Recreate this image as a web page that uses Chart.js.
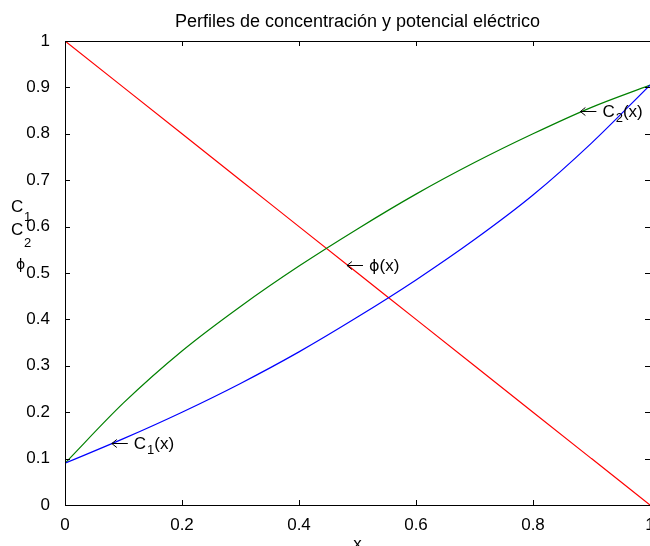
<!DOCTYPE html>
<html>
<head>
<meta charset="utf-8">
<script src="https://cdn.jsdelivr.net/npm/chart.js@4.4.1/dist/chart.umd.min.js"></script>
<style>
  html, body { margin: 0; padding: 0; background: #fff; overflow: hidden; }
  #wrap { width: 650px; height: 546px; position: relative; }
</style>
</head>
<body>
<div id="wrap"><canvas id="chart"></canvas></div>
<script>
// datos
const xs   = [0, 0.1, 0.2, 0.3, 0.4, 0.5, 0.6, 0.7, 0.8, 0.9, 1.0];
const phi  = [1, 0.9, 0.8, 0.7, 0.6, 0.5, 0.4, 0.3, 0.2, 0.1, 0];
const c1   = [0.09, 0.143, 0.200, 0.262, 0.330, 0.405, 0.485, 0.572, 0.668, 0.780, 0.905];
const c2   = [0.09, 0.220, 0.332, 0.428, 0.515, 0.595, 0.670, 0.738, 0.800, 0.857, 0.905];
const xTicks = [0, 0.2, 0.4, 0.6, 0.8, 1];
const yTicks = [0, 0.1, 0.2, 0.3, 0.4, 0.5, 0.6, 0.7, 0.8, 0.9, 1];
const titleText = 'Perfiles de concentración y potencial eléctrico';

// etiquetas con flecha: punto (x, y) donde apunta la flecha
const annNames = ['C', 'ϕ', 'C'];
const annSubs  = ['1', '', '2'];
const annX     = [0.08, 0.482, 0.881];
const annY     = [0.134, 0.518, 0.849];

const FONT = '"Liberation Sans", Arial, Helvetica, sans-serif';
const SYM = '"DejaVu Sans", sans-serif';
const toPts = ys => xs.map((x, i) => ({ x, y: ys[i] }));

// caja estilo MATLAB con marcas hacia dentro + textos
const matlabBox = {
    id: 'matlabBox',
    afterDraw(chart) {
        const { ctx, chartArea: a, scales: { x, y } } = chart;
        ctx.save();
        ctx.strokeStyle = '#000';
        ctx.lineWidth = 1;
        ctx.beginPath();
        ctx.rect(a.left + 0.5, a.top + 0.5, a.right - a.left, a.bottom - a.top);
        const tl = 5;
        xTicks.forEach(v => {
            const px = Math.round(x.getPixelForValue(v)) + 0.5;
            ctx.moveTo(px, a.bottom); ctx.lineTo(px, a.bottom - tl);
            ctx.moveTo(px, a.top); ctx.lineTo(px, a.top + tl);
        });
        yTicks.forEach(v => {
            const py = Math.round(y.getPixelForValue(v)) + 0.5;
            ctx.moveTo(a.left, py); ctx.lineTo(a.left + tl, py);
            ctx.moveTo(a.right, py); ctx.lineTo(a.right - tl, py);
        });
        ctx.stroke();

        ctx.fillStyle = '#000';
        // titulo
        ctx.font = '18px ' + FONT;
        ctx.textAlign = 'center';
        ctx.textBaseline = 'alphabetic';
        ctx.fillText(titleText, (a.left + a.right) / 2, 27);
        // etiqueta eje x
        ctx.font = '17px ' + FONT;
        ctx.fillText('x', (a.left + a.right) / 2, 549);

        // etiqueta eje y apilada
        ctx.textAlign = 'left';
        ctx.font = '17px ' + FONT;
        ctx.fillText('C', 11, 212);
        ctx.fillText('C', 11, 235);
        ctx.font = '13px ' + FONT;
        ctx.fillText('1', 24, 221);
        ctx.fillText('2', 24, 247);
        ctx.font = '14px ' + SYM;
        ctx.fillText('ϕ', 16, 269);

        // anotaciones con flecha
        annX.forEach((vx, i) => {
            const px = x.getPixelForValue(vx);
            const py = Math.round(y.getPixelForValue(annY[i]));
            const len = 16;
            ctx.beginPath();
            ctx.moveTo(px, py + 0.5); ctx.lineTo(px + len, py + 0.5);
            ctx.moveTo(px + 5, py - 3.5); ctx.lineTo(px, py + 0.5); ctx.lineTo(px + 5, py + 4.5);
            ctx.stroke();
            let tx = px + len + 6;
            const base = py + 6;
            ctx.font = (annNames[i] === 'ϕ' ? '16px ' + SYM : '17px ' + FONT);
            ctx.fillText(annNames[i], tx, base);
            tx += ctx.measureText(annNames[i]).width;
            if (annSubs[i]) {
                ctx.font = '13px ' + FONT;
                ctx.fillText(annSubs[i], tx + 1, base + 5);
                tx += ctx.measureText(annSubs[i]).width + 1;
            }
            ctx.font = '17px ' + FONT;
            ctx.fillText('(x)', tx, base);
        });
        ctx.restore();
    }
};

const lineDs = (label, ys, color) => ({
    label,
    data: toPts(ys),
    borderColor: color,
    backgroundColor: color,
    borderWidth: 1.2,
    pointRadius: 0,
    showLine: true,
    cubicInterpolationMode: 'monotone',
    fill: false
});

new Chart(document.getElementById('chart'), {
    type: 'scatter',
    data: {
        datasets: [
            lineDs('C1', c1, '#0000ff'),
            lineDs('C2', c2, '#008000'),
            lineDs('phi', phi, '#ff0000')
        ]
    },
    options: {
        responsive: true,
        maintainAspectRatio: false,
        animation: false,
        layout: { padding: { top: 41, right: -4, left: 0, bottom: 0 } },
        plugins: { legend: { display: false }, title: { display: false }, tooltip: { enabled: false } },
        scales: {
            x: {
                type: 'linear', min: 0, max: 1,
                afterBuildTicks: s => { s.ticks = xTicks.map(v => ({ value: v })); },
                afterFit: s => { s.height = 41; s.paddingLeft = 0; s.paddingRight = 0; },
                grid: { display: false },
                border: { display: false },
                ticks: {
                    color: '#000', padding: 2, maxRotation: 0,
                    font: { family: FONT, size: 17 },
                    callback: v => String(+v.toFixed(1))
                }
            },
            y: {
                type: 'linear', min: 0, max: 1,
                afterBuildTicks: s => { s.ticks = yTicks.map(v => ({ value: v })); },
                afterFit: s => { s.width = 65; s.paddingTop = 0; s.paddingBottom = 0; },
                grid: { display: false },
                border: { display: false },
                ticks: {
                    color: '#000', padding: 7,
                    font: { family: FONT, size: 17 },
                    callback: v => String(+v.toFixed(1))
                }
            }
        }
    },
    plugins: [matlabBox]
});
</script>
</body>
</html>
